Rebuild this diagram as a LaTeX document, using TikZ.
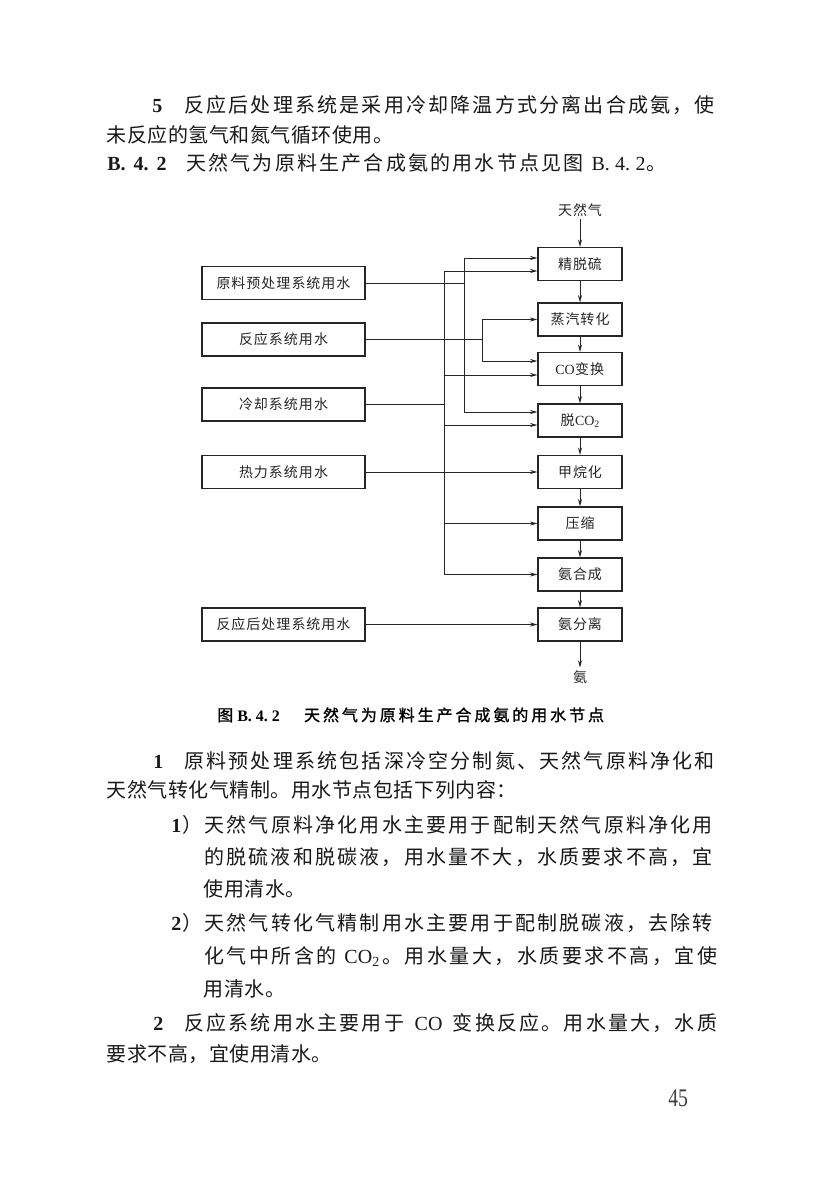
\documentclass[tikz,border=0pt]{standalone}
\usepackage{fontspec}
\usepackage{graphicx}
\setmainfont{Liberation Serif}
\newfontfamily\cjk{Noto Sans CJK SC}
\newfontfamily\cjkb[FakeBold=1.2]{Noto Sans CJK SC}
\usetikzlibrary{arrows.meta}
\newlength\cellw
\newcommand\cellsA[1]{\ifx\relax#1\else\makebox[\cellw]{#1}\expandafter\cellsA\fi}
\newcommand\cj[2]{\setlength\cellw{#1}{\cjk\cellsA#2\relax}}
\newcommand\cjB[2]{\setlength\cellw{#1}{\cjkb\cellsA#2\relax}}
\newcommand\bodyfont{\fontsize{15pt}{18pt}\selectfont}
\newcommand\dgfont{\fontsize{10.5pt}{12pt}\selectfont}
\newcommand\bc[1]{\cj{16.65pt}{#1}}
\newcommand\nc[1]{\cj{15.4pt}{#1}}
\newcommand\dc[1]{\cj{11.25pt}{#1}}
\begin{document}
\begin{tikzpicture}[x=0.75pt,y=-0.75pt,
  txt/.style={anchor=base west,inner sep=0pt,font=\bodyfont,text=black!90},
  box/.style={draw=black!85,line width=0.9pt,inner sep=0pt,font=\dgfont,text=black!85},
  rbox/.style={box,minimum width=63pt,minimum height=24.75pt},
  lbox/.style={box,minimum width=122.25pt,minimum height=24.75pt},
  lbl/.style={inner sep=2pt,font=\dgfont,text=black!85},
  ln/.style={draw=black!85,line width=0.7pt},
  arr/.style={ln,-{Stealth[length=5.5pt,width=3pt]}}]
\useasboundingbox (0,0) rectangle (827,1199);
\fill[white] (0,0) rectangle (827,1199);
% ---- upper text
\node[txt] (n5) at (152,112.6) {\textbf{5}};
\node[txt] (t1) at (183,112.6) {\bc{反应后处理系统是采用冷却降温方式分离出合成氨，使}};
\node[txt] (t2) at (106,142.6) {\nc{未反应的氢气和氮气循环使用。}};
\node[txt] (nb) at (107,170.6) {\textbf{B.\hspace{6pt}4.\hspace{6pt}2}};
\node[txt] (t3) at (185,170.6) {\bc{天然气为原料生产合成氨的用水节点见图}\hspace{5pt}B.\hspace{4pt}4.\hspace{4pt}2\bc{。}};
% ---- diagram
\node[lbl] (top) at (580,210) {\dc{天然气}};
\node[rbox] (r1) at (580,264) {\dc{精脱硫}};
\node[rbox] (r2) at (580,319.5) {\dc{蒸汽转化}};
\node[rbox] (r3) at (580,369) {CO\dc{变换}};
\node[rbox] (r4) at (580,420.5) {\dc{脱}CO\textsubscript{2}};
\node[rbox] (r5) at (580,472) {\dc{甲烷化}};
\node[rbox] (r6) at (580,523.5) {\dc{压缩}};
\node[rbox] (r7) at (580,574.5) {\dc{氨合成}};
\node[rbox] (r8) at (580,624.5) {\dc{氨分离}};
\node[lbl] (bot) at (580,677) {\dc{氨}};
\node[lbox] (l1) at (283.5,283) {\dc{原料预处理系统用水}};
\node[lbox] (l2) at (283.5,339.5) {\dc{反应系统用水}};
\node[lbox] (l3) at (283.5,404.5) {\dc{冷却系统用水}};
\node[lbox] (l4) at (283.5,472) {\dc{热力系统用水}};
\node[lbox] (l5) at (283.5,624.5) {\dc{反应后处理系统用水}};
\coordinate (a1) at (444,271);
\coordinate (a3) at (444,375);
\coordinate (a4) at (444,425);
\coordinate (a5) at (444,523.5);
\coordinate (a2) at (444,574.5);
\coordinate (b1) at (464,258);
\coordinate (b2) at (464,412);
\coordinate (c1) at (482,319.5);
\coordinate (c2) at (482,361);
% main chain
\draw[arr] (top) -- (r1);
\draw[arr] (r1) -- (r2);
\draw[arr] (r2) -- (r3);
\draw[arr] (r3) -- (r4);
\draw[arr] (r4) -- (r5);
\draw[arr] (r5) -- (r6);
\draw[arr] (r6) -- (r7);
\draw[arr] (r7) -- (r8);
\draw[arr] (r8) -- (bot);
% feeders
\draw[ln] (l1.east) -- (l1.east -| b1);
\draw[ln] (l2.east) -- (l2.east -| c1);
\draw[ln] (l3.east) -- (l3.east -| a1);
\draw[arr] (l4) -- (r5);
\draw[arr] (l5) -- (r8);
% bus A
\draw[arr] (a2) -- (a1) -- (a1 -| r1.west);
\draw[arr] (a1) -- (a2) -- (a2 -| r7.west);
\draw[arr] (a3) -- (a3 -| r3.west);
\draw[arr] (a4) -- (a4 -| r4.west);
\draw[arr] (a5) -- (a5 -| r6.west);
% bus B
\draw[arr] (b2) -- (b1) -- (b1 -| r1.west);
\draw[arr] (b1) -- (b2) -- (b2 -| r4.west);
% bus C
\draw[arr] (c2) -- (c1) -- (c1 -| r2.west);
\draw[arr] (c1) -- (c2) -- (c2 -| r3.west);
% caption
\node[anchor=base west,inner sep=0pt,text=black] (cap) at (217,721)
  {\fontsize{12pt}{14pt}\selectfont\cjB{12pt}{图}\hspace{3pt}\textbf{B.\hspace{3pt}4.\hspace{3pt}2}\hspace{17pt}\cjB{14.2pt}{天然气为原料生产合成氨的用水节点}};
% ---- lower text
\node[txt] (n1) at (153,768.6) {\textbf{1}};
\node[txt] (p1a) at (183,768.6) {\bc{原料预处理系统包括深冷空分制氮、天然气原料净化和}};
\node[txt] (p1b) at (106,797.6) {\nc{天然气转化气精制。用水节点包括下列内容：}};
\node[txt] (m1) at (171,832.6) {\textbf{1}};
\node[txt] (i1a) at (181,832.6) {\bc{）天然气原料净化用水主要用于配制天然气原料净化用}};
\node[txt] (i1b) at (203,864.6) {\bc{的脱硫液和脱碳液，用水量不大，水质要求不高，宜}};
\node[txt] (i1c) at (203,896.6) {\nc{使用清水。}};
\node[txt] (m2) at (171,930.6) {\textbf{2}};
\node[txt] (i2a) at (181,930.6) {\bc{）天然气转化气精制用水主要用于配制脱碳液，去除转}};
\node[txt] (i2b) at (203,963.6) {\hbox to 386.25pt{\cj{16.85pt}{化气中所含的}\hfil CO\textsubscript{2}\hspace{1pt}\cj{16.85pt}{。用水量大，水质要求不高，宜使}}};
\node[txt] (i2c) at (203,996.6) {\nc{用清水。}};
\node[txt] (n2) at (153,1030.6) {\textbf{2}};
\node[txt] (p2a) at (183,1030.6) {\hbox to 401.25pt{\bc{反应系统用水主要用于}\hfil CO\hfil\bc{变换反应。用水量大，水质}}};
\node[txt] (p2b) at (106,1061.6) {\nc{要求不高，宜使用清水。}};
\node[anchor=base west,inner sep=0pt,text=black!75] (pg) at (668,1106) {\fontsize{19pt}{20pt}\selectfont\scalebox{0.78}[1]{45}};
\end{tikzpicture}
\end{document}
